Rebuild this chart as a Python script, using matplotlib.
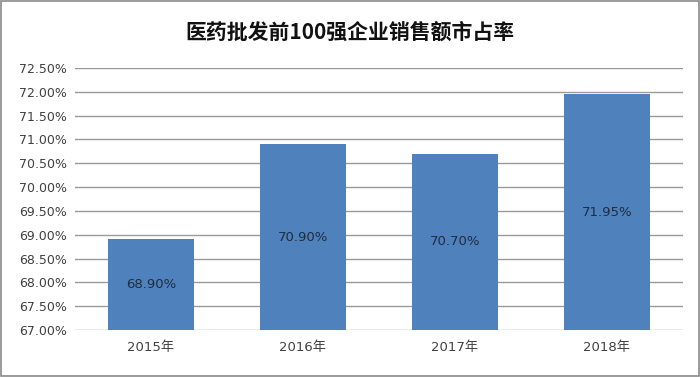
import matplotlib
matplotlib.use('Agg')
import matplotlib.pyplot as plt
from matplotlib.patches import Rectangle

plt.rcParams['font.family'] = ['DejaVu Sans', 'Noto Sans CJK SC']

years = ['2015年', '2016年', '2017年', '2018年']
shares = [68.90, 70.90, 70.70, 71.95]
yticks = [67.0, 67.5, 68.0, 68.5, 69.0, 69.5, 70.0, 70.5, 71.0, 71.5, 72.0, 72.5]

fig = plt.figure(figsize=(7, 3.77), dpi=100)
ax = fig.add_axes([75 / 700, 47 / 377, 608 / 700, 262 / 377])

x = range(len(years))
ax.bar(x, [s - 67.0 for s in shares], bottom=67.0, width=0.565,
       color='#4f81bd', zorder=3)
for i, s in enumerate(shares):
    ax.text(i, (67.0 + s) / 2, f"{s:.2f}%", ha='center', va='center',
            fontsize=9.5, color='#1f2d3d', zorder=4)

ax.set_xlim(-0.5, len(years) - 0.5)
ax.set_ylim(67.0, 72.5)
ax.set_yticks(yticks)
ax.set_yticklabels([f"{v:.2f}%" for v in yticks], fontsize=9, color='#404040')
ax.set_xticks(list(x))
ax.set_xticklabels(years, fontsize=9.5, color='#404040')
ax.tick_params(axis='both', length=0, pad=8)
ax.tick_params(axis='y', pad=6)
ax.grid(axis='y', color='#9a9a9a', linewidth=1, zorder=0)
for sp in ax.spines.values():
    sp.set_visible(False)

fig.text(0.5, 0.915, "医药批发前100强企业销售额市占率", ha='center', va='center',
         fontsize=15, fontweight='bold', color='#111111',
         family=['Noto Sans CJK SC', 'DejaVu Sans'])

fig.patches.append(Rectangle((0.002, 0.003), 0.996, 0.994, transform=fig.transFigure,
                             fill=False, edgecolor='#8a8a8a', linewidth=1.2))

plt.savefig("out.png", dpi=100)
